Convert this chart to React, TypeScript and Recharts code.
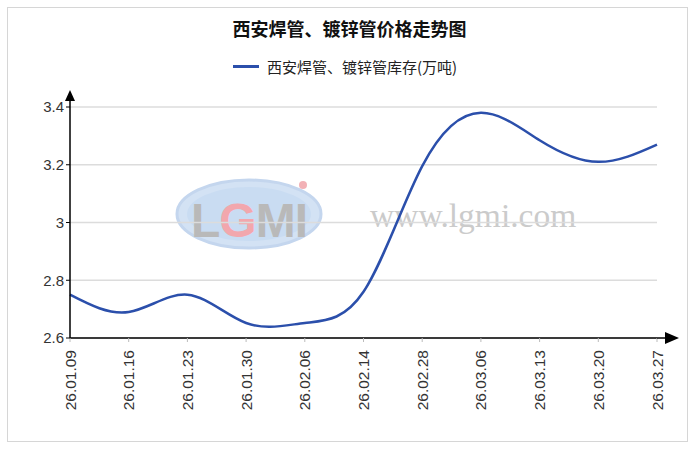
import React from 'react';
import { LineChart, Line, XAxis, YAxis, CartesianGrid } from 'recharts';

const dates = [
  '26.01.09', '26.01.16', '26.01.23', '26.01.30', '26.02.06', '26.02.14',
  '26.02.28', '26.03.06', '26.03.13', '26.03.20', '26.03.27',
];
const stock = [2.75, 2.69, 2.75, 2.652, 2.652, 2.76, 3.195, 3.38, 3.285, 3.21, 3.27];
const yTicks = [2.6, 2.8, 3, 3.2, 3.4];

const title = '西安焊管、镀锌管价格走势图';
const seriesName = '西安焊管、镀锌管库存(万吨)';

const data = dates.map((d, i) => ({ date: d, value: stock[i] }));

const W = 699;
const H = 450;
const M = { top: 107, right: 42, bottom: 0, left: 0 };
const Y_AXIS_W = 70;
const X_AXIS_H = 112;
const plotLeft = M.left + Y_AXIS_W;
const plotRight = W - M.right;
const plotBottom = H - M.bottom - X_AXIS_H;

const LINE_COLOR = '#2b4fab';
const NUM_FONT = '"Liberation Sans", Arial, sans-serif';
const CJK_FONT = '"Noto Sans CJK SC", "Liberation Sans", sans-serif';

const DateTick = (props: any) => {
  const { x, y, payload } = props;
  return (
    <text
      x={x}
      y={y}
      transform={`rotate(-90, ${x}, ${y})`}
      textAnchor="end"
      dy="0.36em"
      fontSize={15.5}
      fontFamily={NUM_FONT}
      fill="#333"
    >
      {payload.value}
    </text>
  );
};

const Watermark = () => (
  <svg width={W} height={H} style={{ position: 'absolute', left: 0, top: 0 }}>
    <ellipse cx={249} cy={214} rx={72} ry={34} fill="#d3e2f4" stroke="#c4d6ee" strokeWidth={3} />
    <ellipse cx={249} cy={214} rx={62} ry={27} fill="#c9dcf2" />
    <text x={191} y={237} fontSize={48} fontWeight="bold" fontFamily={NUM_FONT} fill="#b9b9b9" letterSpacing={-1}>
      L<tspan fill="#f2a7ad">G</tspan>MI
    </text>
    <circle cx={303} cy={185} r={4} fill="#f2b1b6" />
    <text x={370} y={227} fontSize={33.5} fontFamily='"Liberation Serif", serif' fill="#cbcbcb">
      www.lgmi.com
    </text>
  </svg>
);

const Arrows = () => (
  <svg width={W} height={H} style={{ position: 'absolute', left: 0, top: 0, pointerEvents: 'none' }}>
    <line x1={plotLeft} y1={M.top} x2={plotLeft} y2={M.top - 8} stroke="#000" strokeWidth={1.5} />
    <polygon
      points={`${plotLeft},${M.top - 17} ${plotLeft - 5},${M.top - 6} ${plotLeft + 5},${M.top - 6}`}
      fill="#000"
    />
    <line x1={plotRight} y1={plotBottom} x2={plotRight + 9} y2={plotBottom} stroke="#000" strokeWidth={1.5} />
    <polygon
      points={`${plotRight + 22},${plotBottom} ${plotRight + 8},${plotBottom - 6} ${plotRight + 8},${plotBottom + 6}`}
      fill="#000"
    />
  </svg>
);

export default function App() {
  return (
    <div style={{ position: 'absolute', left: 0, top: 0, width: W, height: H, background: '#fff' }}>
      <div
        style={{
          position: 'absolute',
          left: 7,
          top: 7,
          width: 681,
          height: 435,
          border: '1px solid #d6d6d6',
          boxSizing: 'border-box',
        }}
      />
      <div
        style={{
          position: 'absolute',
          left: 0,
          top: 16,
          width: W,
          textAlign: 'center',
          fontFamily: CJK_FONT,
          fontWeight: 'bold',
          fontSize: 18,
          lineHeight: '24px',
          color: '#111',
        }}
      >
        {title}
      </div>
      <div
        style={{
          position: 'absolute',
          left: 233,
          top: 56,
          height: 20,
          display: 'flex',
          alignItems: 'center',
          fontFamily: CJK_FONT,
          fontSize: 15,
          color: '#222',
        }}
      >
        <span style={{ display: 'inline-block', width: 26, height: 3, background: LINE_COLOR, marginRight: 8 }} />
        <span>{seriesName}</span>
      </div>
      <Watermark />
      <div style={{ position: 'absolute', left: 0, top: 0 }}>
        <LineChart width={W} height={H} data={data} margin={M}>
          <CartesianGrid horizontal vertical={false} stroke="#dcdcdc" strokeWidth={1.5} />
          <XAxis
            dataKey="date"
            height={X_AXIS_H}
            interval={0}
            tick={<DateTick />}
            tickSize={4}
            tickMargin={8}
            axisLine={{ stroke: '#000', strokeWidth: 1.5 }}
            tickLine={{ stroke: '#bbb' }}
          />
          <YAxis
            width={Y_AXIS_W}
            domain={[2.6, 3.4]}
            ticks={yTicks}
            interval={0}
            tickSize={4}
            tickMargin={2}
            axisLine={{ stroke: '#000', strokeWidth: 1.5 }}
            tickLine={{ stroke: '#000' }}
            tick={{ fontSize: 15, fontFamily: NUM_FONT, fill: '#333' }}
          />
          <Line
            type="natural"
            dataKey="value"
            name={seriesName}
            stroke={LINE_COLOR}
            strokeWidth={2.5}
            dot={false}
            isAnimationActive={false}
          />
        </LineChart>
      </div>
      <Arrows />
    </div>
  );
}
